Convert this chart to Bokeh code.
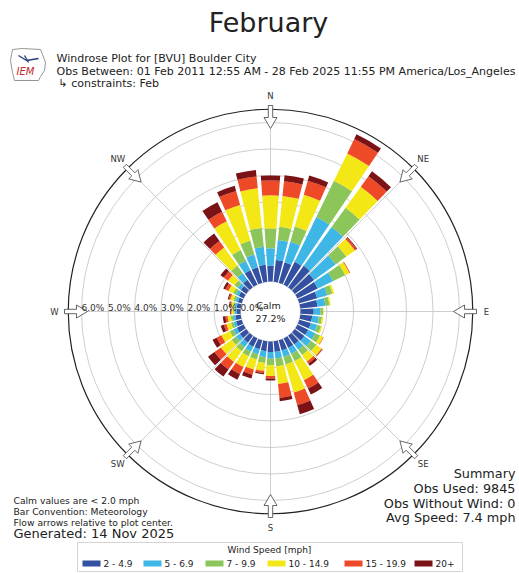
import numpy as np
from bokeh.plotting import figure
from bokeh.models import Label, Range1d
from bokeh.embed import file_html
from bokeh.resources import INLINE

# ---------------- data ----------------
directions = list(range(0, 360, 10))  # compass degrees (from)
speed_bins = ["2 - 4.9", "5 - 6.9", "7 - 9.9", "10 - 14.9", "15 - 19.9", "20+"]
bin_colors = ["#3450a0", "#3eb6e6", "#8cc65a", "#f3e816", "#ee4a28", "#7a1216"]

# percent of observations per direction (0,10,...,350) for each speed bin
pct_2_5 = [0.60, 0.82, 0.80, 0.95, 1.00, 0.90, 0.85, 0.70, 0.65, 0.50, 0.45, 0.45,
           0.45, 0.45, 0.40, 0.40, 0.40, 0.40, 0.40, 0.38, 0.35, 0.35, 0.32, 0.30,
           0.28, 0.22, 0.20, 0.15, 0.15, 0.15, 0.20, 0.25, 0.35, 0.60, 0.60, 0.64]
pct_5_7 = [0.65, 0.76, 0.80, 1.88, 1.80, 1.00, 0.65, 0.40, 0.30, 0.25, 0.25, 0.25,
           0.30, 0.30, 0.25, 0.25, 0.25, 0.25, 0.25, 0.22, 0.20, 0.20, 0.20, 0.18,
           0.15, 0.10, 0.10, 0.07, 0.08, 0.10, 0.12, 0.15, 0.30, 0.40, 0.50, 0.68]
pct_7_10 = [0.75, 0.50, 0.60, 1.52, 0.90, 0.50, 0.50, 0.20, 0.15, 0.10, 0.12, 0.15,
            0.20, 0.25, 0.25, 0.30, 0.30, 0.30, 0.25, 0.22, 0.20, 0.20, 0.20, 0.20,
            0.15, 0.10, 0.08, 0.05, 0.06, 0.08, 0.12, 0.15, 0.35, 0.45, 0.55, 0.72]
pct_10_15 = [1.25, 1.17, 1.25, 1.15, 0.98, 0.40, 0.18, 0.07, 0.05, 0.02, 0.05, 0.05,
             0.13, 0.25, 0.30, 0.80, 1.10, 0.67, 0.40, 0.30, 0.40, 0.45, 0.50, 0.50,
             0.35, 0.18, 0.12, 0.07, 0.08, 0.12, 0.20, 0.30, 0.85, 1.20, 1.40, 1.50]
pct_15_20 = [0.56, 0.56, 0.55, 0.60, 0.49, 0.08, 0.03, 0.00, 0.00, 0.00, 0.00, 0.00,
             0.02, 0.03, 0.10, 0.35, 0.50, 0.53, 0.10, 0.08, 0.20, 0.30, 0.35, 0.30,
             0.20, 0.10, 0.08, 0.03, 0.05, 0.06, 0.12, 0.20, 0.30, 0.40, 0.55, 0.45]
pct_20p = [0.19, 0.23, 0.20, 0.20, 0.23, 0.03, 0.00, 0.00, 0.00, 0.00, 0.00, 0.00,
           0.00, 0.02, 0.10, 0.25, 0.35, 0.12, 0.07, 0.05, 0.15, 0.23, 0.33, 0.30,
           0.17, 0.12, 0.10, 0.03, 0.03, 0.04, 0.09, 0.15, 0.35, 0.40, 0.20, 0.25]
series = [pct_2_5, pct_5_7, pct_7_10, pct_10_15, pct_15_20, pct_20p]

ring_values = [0, 1, 2, 3, 4, 5, 6]
r_max = 6.5
compass_labels = ["N", "NE", "E", "SE", "S", "SW", "W", "NW"]
compass_angles = [0, 45, 90, 135, 180, 225, 270, 315]

calm_pct = "27.2%"
title_text = "February"
header_lines = ["Windrose Plot for [BVU] Boulder City",
                "Obs Between: 01 Feb 2011 12:55 AM - 28 Feb 2025 11:55 PM America/Los_Angeles",
                "\u21b3 constraints: Feb"]
notes_lines = ["Calm values are < 2.0 mph", "Bar Convention: Meteorology",
               "Flow arrows relative to plot center."]
generated = "Generated: 14 Nov 2025"
summary_lines = ["Summary", "Obs Used: 9845", "Obs Without Wind: 0", "Avg Speed: 7.4 mph"]

# ---------------- layout ----------------
K = 26.5          # pixels per percent
CX, CY = 270, 311  # page pixel centre of rose
R0 = 30 / K       # calm circle radius in percent units
W, H = 519, 573
FONT = "DejaVu Sans"


def px(X):
    return (X - CX) / K


def py(Y):
    return (CY - Y) / K


p = figure(width=W, height=H, x_range=Range1d(px(0), px(W)),
           y_range=Range1d(py(H), py(0)), output_backend="svg",
           toolbar_location=None, x_axis_type=None, y_axis_type=None,
           min_border=0, outline_line_color=None, background_fill_color="white")
p.grid.visible = False

# rings
p.circle(x=[0] * len(ring_values), y=[0] * len(ring_values),
         radius=[R0 + v for v in ring_values], fill_color=None,
         line_color="#c8c8c8", line_width=0.9)
# spokes
sa = np.radians(compass_angles)
p.segment(x0=R0 * np.sin(sa), y0=R0 * np.cos(sa),
          x1=(R0 + r_max) * np.sin(sa), y1=(R0 + r_max) * np.cos(sa),
          line_color="#c8c8c8", line_width=0.9)

# stacked bars
half = np.radians(4.1)
centre = np.pi / 2 - np.radians(np.array(directions, dtype=float))
cum = np.zeros(len(directions))
for vals, col in zip(series, bin_colors):
    v = np.array(vals)
    p.annular_wedge(x=0, y=0, inner_radius=R0 + cum, outer_radius=R0 + cum + v,
                    start_angle=centre - half, end_angle=centre + half,
                    fill_color=col, line_color=None)
    cum = cum + v

# outer circle
p.circle(x=[0], y=[0], radius=[R0 + r_max], fill_color=None,
         line_color="#222222", line_width=1.2)

# flow arrows
a_xs, a_ys = [], []
shape = [(-2.2, 206), (2.2, 206), (2.2, 194), (6.5, 194), (0, 183),
         (-6.5, 194), (-2.2, 194)]
for ang in compass_angles:
    t = np.radians(ang)
    ux, uy = np.sin(t), np.cos(t)
    vx, vy = np.cos(t), -np.sin(t)
    xs = [(r * ux + w * vx) / K for w, r in shape]
    ys = [(r * uy + w * vy) / K for w, r in shape]
    a_xs.append(xs)
    a_ys.append(ys)
p.patches(xs=a_xs, ys=a_ys, fill_color="white", line_color="#555555", line_width=0.9)


def lab(X, Y, text, size, align="left", baseline="middle", color="#222222", style="normal"):
    p.add_layout(Label(x=px(X), y=py(Y), text=text, text_font=FONT,
                       text_font_size=f"{size}px", text_align=align,
                       text_baseline=baseline, text_color=color,
                       text_font_style=style))


# compass labels
for name, ang in zip(compass_labels, compass_angles):
    t = np.radians(ang)
    p.add_layout(Label(x=216 / K * np.sin(t), y=216 / K * np.cos(t), text=name,
                       text_font=FONT, text_font_size="8.5px", text_align="center",
                       text_baseline="middle", text_color="#333333"))

# radial labels
for v in ring_values:
    p.add_layout(Label(x=-(R0 + v), y=py(307.5), text=f"{v:.1f}%", text_font=FONT,
                       text_font_size="9px", text_align="left",
                       text_baseline="middle", text_color="#333333"))

lab(268, 305, "Calm", 9.5, "center")
lab(270, 318, calm_pct, 9.5, "center")

# title and header
lab(268, 22, title_text, 27, "center")
for i, t in enumerate(header_lines):
    lab(56 if i < 2 else 58, 58 + 12.5 * i, t, 11)

# IEM logo
logo_x = [12, 22, 40, 42, 45, 44, 40, 38, 14, 12, 10]
logo_y = [49, 48, 49, 54, 62, 70, 76, 80, 80, 72, 60]
p.patch(x=[px(v) for v in logo_x], y=[py(v) for v in logo_y], fill_color=None,
        line_color="#8a8a8a", line_width=0.9)
p.multi_line(xs=[[px(18), px(26), px(38)], [px(24), px(28)]],
             ys=[[py(55), py(60), py(58)], [py(55), py(62)]],
             line_color="#2a3a7a", line_width=1.3)
lab(25, 71, "IEM", 10, "center", color="#c0282d", style="italic")

# notes
for i, t in enumerate(notes_lines):
    lab(13, 500 + 11 * i, t, 9.2)
lab(13, 533, generated, 13)
for i, t in enumerate(summary_lines):
    lab(515, 473 + 14.8 * i, t, 12.8, "right")

# legend (manual)
p.quad(left=[px(77)], right=[px(462)], top=[py(542)], bottom=[py(571)],
       fill_color="white", line_color="#d4d4d4", line_width=1)
lab(269, 549, "Wind Speed [mph]", 9, "center")
patch_x = [91, 152, 214, 276, 353, 423]
for i, (name, col) in enumerate(zip(speed_bins, bin_colors)):
    p.rect(x=[px(patch_x[i])], y=[py(563)], width=18 / K, height=6 / K,
           fill_color=col, line_color=None)
    lab(patch_x[i] + 12, 563, name, 9)

open("out.html", "w").write(file_html(p, INLINE))
